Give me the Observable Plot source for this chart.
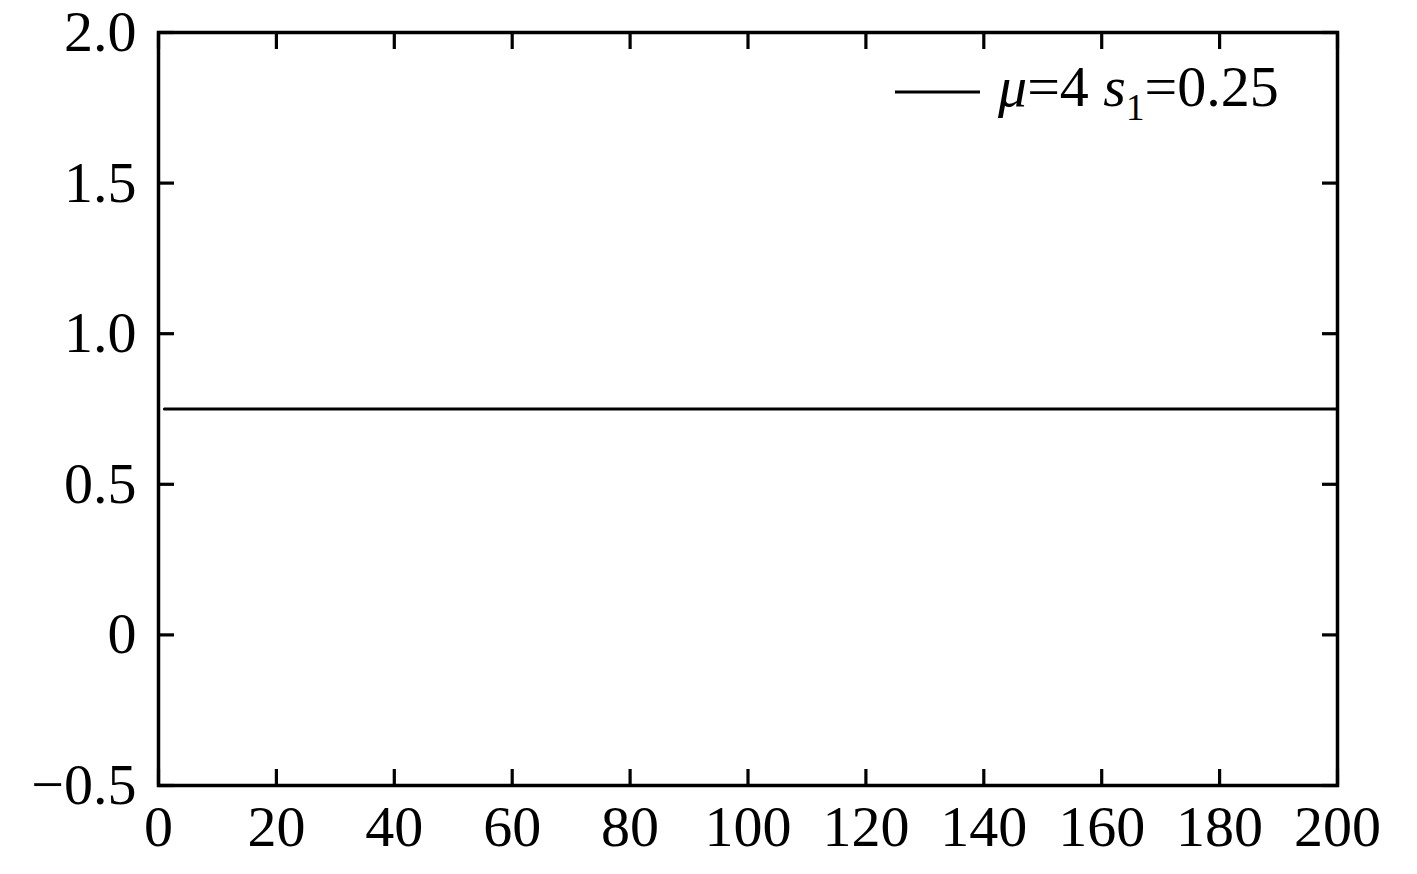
<!DOCTYPE html>
<html>
<head>
<meta charset="utf-8">
<script src="https://cdn.jsdelivr.net/npm/d3@7"></script>
<script src="https://cdn.jsdelivr.net/npm/@observablehq/plot@0.6"></script>
<style>
  html, body { margin: 0; padding: 0; background: #fff; }
  #chart svg { display: block; }
</style>
</head>
<body>
<div id="chart"></div>
<script>
// Data
const steps = [1, 200];
const values = [0.75, 0.75];
const xTicks = [0, 20, 40, 60, 80, 100, 120, 140, 160, 180, 200];
const yTicks = [-0.5, 0, 0.5, 1.0, 1.5, 2.0];
const yTickLabels = ["\u22120.5", "0", "0.5", "1.0", "1.5", "2.0"];
const legendLabel = { mu: "\u03BC", muVal: "=4 ", s: "s", sub: "1", sVal: "=0.25" };

const data = steps.map((x, i) => ({ x, y: values[i] }));
const fmtY = (d) => yTickLabels[yTicks.indexOf(d)] ?? String(d);

const FONT = "'Liberation Serif', 'Times New Roman', serif";
const chart = Plot.plot({
  width: 1417,
  height: 874,
  marginLeft: 158,
  marginRight: 80,
  marginTop: 32,
  marginBottom: 89,
  style: { fontFamily: FONT, fontSize: "58px", color: "#000", background: "#fff" },
  x: { domain: [0, 200] },
  y: { domain: [-0.5, 2.0] },
  marks: [
    Plot.axisX({ ticks: xTicks, anchor: "bottom", tickSize: -16, tickPadding: 16 + 19, strokeWidth: 3.2, label: null, fontSize: 58 }),
    Plot.axisX({ ticks: xTicks, anchor: "top", tickSize: -16, strokeWidth: 3.2, tickFormat: () => "", label: null }),
    Plot.axisY({ ticks: yTicks, anchor: "left", tickSize: -16, tickPadding: 16 + 22, strokeWidth: 3.2, tickFormat: fmtY, label: null, fontSize: 58 }),
    Plot.axisY({ ticks: yTicks, anchor: "right", tickSize: -16, strokeWidth: 3.2, tickFormat: () => "", label: null }),
    Plot.frame({ stroke: "#000", strokeWidth: 3.5 }),
    Plot.line(data, { x: "x", y: "y", stroke: "#000", strokeWidth: 3 })
  ]
});
document.getElementById("chart").appendChild(chart);

// Legend (inside the plot, top-right)
const svg = d3.select(chart);
const g = svg.append("g").attr("class", "legend");
g.append("line")
  .attr("x1", 895).attr("x2", 980).attr("y1", 92).attr("y2", 92)
  .attr("stroke", "#000").attr("stroke-width", 3);
const t = g.append("text")
  .attr("x", 998).attr("y", 106)
  .attr("text-anchor", "start")
  .attr("font-family", FONT).attr("font-size", 58).attr("fill", "#000");
t.append("tspan").attr("font-style", "italic").text(legendLabel.mu);
t.append("tspan").text(legendLabel.muVal);
t.append("tspan").attr("font-style", "italic").text(legendLabel.s);
t.append("tspan").attr("font-size", 37).attr("dy", 14).text(legendLabel.sub);
t.append("tspan").attr("dy", -14).text(legendLabel.sVal);
</script>
</body>
</html>
